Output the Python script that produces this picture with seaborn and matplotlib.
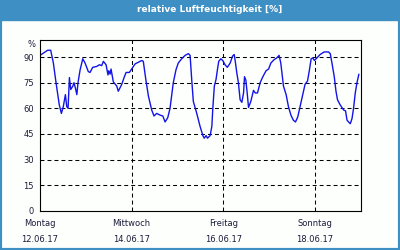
import matplotlib
matplotlib.use("Agg")
import matplotlib.pyplot as plt
import matplotlib.patches as patches
import seaborn as sns

# Relative humidity, one week starting Monday 12.06.17 00:00 (hours since start)
hours = [0, 4, 5.6, 7, 8.4, 10.1, 11.2, 12.2, 13.3, 14, 14.7, 15.4, 16.1, 17.2, 17.8,
         18.5, 19.3, 19.9, 21, 22.4, 23.6, 25.3, 26.2, 27.6, 29.7, 31.1, 32.3, 33.2,
         34.6, 35.6, 36, 36.7, 37.2, 38.4, 40.2, 41, 42.8, 44.2, 45.1, 46.8, 48.6,
         49.8, 51.5, 53.3, 54.1, 55.4, 56.8, 58.5, 59.7, 61.1, 62.9, 64.3, 65.5,
         66.9, 68.1, 69, 69.8, 71.2, 72.4, 74.2, 76, 77.7, 78.6, 79.5, 80.3, 82.1,
         83.8, 85.3, 86, 87, 87.7, 89.1, 90, 90.5, 91.3, 92.2, 92.9, 93.6, 94.7,
         95.7, 96.9, 98.1, 99.6, 100.8, 101.7, 102.2, 103.1, 103.9, 104.8, 105.7,
         106.6, 107.1, 107.8, 108.5, 109.2, 110.4, 111.8, 112.7, 113.9, 115.3,
         116.7, 118.4, 119.7, 120.9, 122.6, 124, 125.2, 126.1, 127.5, 128.9, 130.1,
         131.4, 132.7, 133.8, 135, 136.2, 137.6, 138.8, 140.1, 141.1, 142, 142.9,
         143.7, 145, 146.7, 148.8, 151.1, 152, 152.9, 154.1, 155, 155.8, 157.2, 159,
         160, 160.8, 161.6, 162.5, 163.4, 164.2, 165.1, 166, 167]
humidity = [91, 94, 94, 86.5, 75, 62, 57, 61, 68, 61, 60, 78, 71, 73, 75,
            72, 68, 75, 82.5, 89, 86.5, 81.5, 81, 84, 84.5, 85.5, 85, 87.5,
            85.5, 79.5, 82, 80, 83, 75.5, 73, 70, 74, 78.5, 81, 81, 84,
            86, 87, 88, 87.5, 77, 67, 59, 55.5, 57, 56, 55.5, 52,
            54.5, 60, 68, 75, 82.5, 86.5, 89, 91, 92, 91, 76, 64, 57,
            49.5, 44, 42.5, 44, 42.5, 44, 49.5, 60, 73, 77, 82.5, 87.5, 89,
            88, 85.5, 84, 86.5, 90.5, 91.5, 88, 80.5, 75, 65, 63.5,
            69, 78.5, 76.5, 69, 60.5, 64, 70.5, 69, 69, 75,
            78.5, 82, 83, 86.5, 88.5, 89.5, 91, 86.5, 73, 68, 61,
            56, 53, 52, 55, 61, 68, 74, 76, 82.5, 89, 89.5,
            88, 89.5, 91.5, 93, 93, 92, 86.5, 78.5, 70, 65, 62, 59,
            58.5, 53, 52, 51, 54, 60, 69, 75, 80]

day_names = ["Montag", "Mittwoch", "Freitag", "Sonntag"]
day_dates = ["12.06.17", "14.06.17", "16.06.17", "18.06.17"]
y_ticks = [0, 15, 30, 45, 60, 75, 90]

blue_bar = "#3d8fc4"
bg = "#fcfffc"
text_col = "#1c1c3c"

sns.set_style("white")
plt.rcParams["font.family"] = ["DejaVu Sans"]

fig = plt.figure(figsize=(4, 2.5), dpi=100, facecolor=bg)
ax = fig.add_axes([0.1, 0.157, 0.802, 0.683], facecolor=bg)

sns.lineplot(x=hours, y=humidity, ax=ax, color="#1414e6", linewidth=1.0)

ax.set_xlim(0, 168)
ax.set_ylim(0, 100)

ax.set_xticks([0, 48, 96, 144])
ax.set_xticks([24, 72, 120, 168], minor=True)
ax.set_xticklabels([f"{n}\n{d}" for n, d in zip(day_names, day_dates)],
                   linespacing=1.95)
ax.set_yticks(y_ticks)
ax.set_yticklabels([str(v) for v in y_ticks])

ax.tick_params(axis="both", which="both", direction="out", length=2.5, width=0.8,
               color="black", labelsize=6, labelcolor=text_col, pad=2)
ax.tick_params(axis="x", which="major", pad=3.5)
ax.tick_params(axis="x", which="minor", length=2.5)

grid_style = dict(color="black", linewidth=0.75, linestyle=(0, (3.8, 2.9)))
ax.grid(False)
for v in y_ticks[1:]:
    ax.axhline(v, **grid_style, zorder=1)
for h in [48, 96, 144]:
    ax.axvline(h, **grid_style, zorder=1)

for s in ax.spines.values():
    s.set_color("black")
    s.set_linewidth(0.8)
    s.set_visible(True)

ax.set_xlabel("")
ax.set_ylabel("")

# "%" unit above the y tick labels
ax.annotate("%", xy=(0, 97.5), xycoords=("axes fraction", "data"),
            xytext=(-3, 0), textcoords="offset points",
            ha="right", va="center", fontsize=6, color=text_col)

# title bar and frame
fig.patches.append(patches.Rectangle((0, 1 - 20 / 250), 1, 20 / 250,
                                     transform=fig.transFigure, color=blue_bar,
                                     zorder=0))
fig.text(0.523, 1 - 10 / 250, "relative Luftfeuchtigkeit [%]", color="white",
         fontsize=6.5, fontweight="bold", ha="center", va="center")
fig.patches.append(patches.Rectangle((0, 0), 1, 1, transform=fig.transFigure,
                                     fill=False, edgecolor=blue_bar, linewidth=3,
                                     zorder=5))

fig.savefig("out.png", dpi=100, facecolor=bg)
